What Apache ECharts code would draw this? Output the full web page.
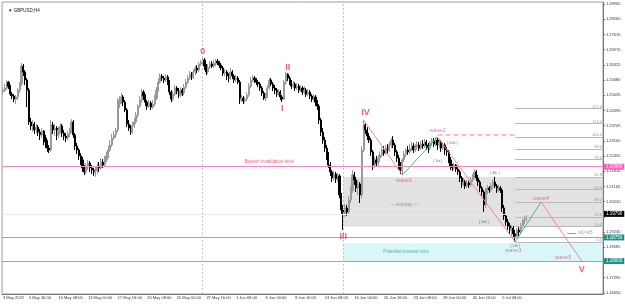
<!DOCTYPE html>
<html><head><meta charset="utf-8">
<script src="https://cdn.jsdelivr.net/npm/echarts@6/dist/echarts.min.js"></script>
<style>html,body{margin:0;padding:0;background:#fff}#c{width:625px;height:304px}</style>
</head><body><div id="c"></div>
<script>
// [open, close, low, high] per H4 bar
const ohlc = [
[1.2517,1.2525,1.2504,1.2538],[1.2525,1.2534,1.2517,1.2551],[1.2534,1.2559,1.2525,1.2568],[1.2559,1.2542,1.2530,1.2564],
[1.2542,1.2508,1.2500,1.2547],[1.2508,1.2500,1.2487,1.2517],[1.2500,1.2487,1.2474,1.2508],[1.2487,1.2496,1.2466,1.2504],
[1.2496,1.2525,1.2483,1.2534],[1.2525,1.2551,1.2513,1.2559],[1.2551,1.2627,1.2542,1.2640],[1.2627,1.2602,1.2585,1.2636],
[1.2602,1.2568,1.2547,1.2610],[1.2568,1.2525,1.2453,1.2576],[1.2525,1.2390,1.2377,1.2534],[1.2390,1.2373,1.2356,1.2407],
[1.2373,1.2381,1.2347,1.2398],[1.2381,1.2356,1.2339,1.2390],[1.2356,1.2368,1.2343,1.2381],[1.2368,1.2347,1.2330,1.2377],
[1.2347,1.2335,1.2313,1.2360],[1.2335,1.2352,1.2322,1.2364],[1.2352,1.2322,1.2292,1.2356],[1.2322,1.2305,1.2279,1.2335],
[1.2305,1.2279,1.2263,1.2313],[1.2279,1.2271,1.2258,1.2292],[1.2271,1.2377,1.2263,1.2398],[1.2377,1.2356,1.2339,1.2390],
[1.2356,1.2364,1.2330,1.2381],[1.2364,1.2335,1.2313,1.2373],[1.2335,1.2356,1.2322,1.2368],[1.2356,1.2373,1.2343,1.2385],
[1.2373,1.2343,1.2326,1.2381],[1.2343,1.2330,1.2313,1.2356],[1.2330,1.2322,1.2305,1.2343],[1.2322,1.2339,1.2313,1.2352],
[1.2339,1.2356,1.2326,1.2364],[1.2356,1.2390,1.2343,1.2402],[1.2390,1.2335,1.2322,1.2398],[1.2335,1.2288,1.2271,1.2343],
[1.2288,1.2271,1.2254,1.2301],[1.2271,1.2246,1.2229,1.2279],[1.2246,1.2229,1.2207,1.2258],[1.2229,1.2195,1.2178,1.2241],
[1.2195,1.2178,1.2165,1.2207],[1.2178,1.2203,1.2169,1.2216],[1.2203,1.2216,1.2186,1.2229],[1.2216,1.2195,1.2178,1.2224],
[1.2195,1.2186,1.2169,1.2207],[1.2186,1.2174,1.2161,1.2195],[1.2174,1.2182,1.2157,1.2199],[1.2182,1.2203,1.2169,1.2216],
[1.2203,1.2195,1.2178,1.2220],[1.2195,1.2220,1.2186,1.2237],[1.2220,1.2207,1.2195,1.2233],[1.2207,1.2229,1.2199,1.2246],
[1.2229,1.2246,1.2220,1.2263],[1.2246,1.2271,1.2237,1.2288],[1.2271,1.2292,1.2263,1.2313],[1.2292,1.2322,1.2284,1.2339],
[1.2322,1.2335,1.2313,1.2352],[1.2335,1.2356,1.2322,1.2364],[1.2356,1.2466,1.2347,1.2491],[1.2466,1.2483,1.2449,1.2500],
[1.2483,1.2496,1.2466,1.2513],[1.2496,1.2474,1.2457,1.2504],[1.2474,1.2441,1.2432,1.2483],[1.2441,1.2381,1.2368,1.2449],
[1.2381,1.2364,1.2352,1.2398],[1.2364,1.2347,1.2335,1.2377],[1.2347,1.2373,1.2339,1.2390],[1.2373,1.2390,1.2364,1.2407],
[1.2390,1.2419,1.2381,1.2432],[1.2419,1.2457,1.2407,1.2466],[1.2457,1.2483,1.2449,1.2500],[1.2483,1.2517,1.2470,1.2530],
[1.2517,1.2500,1.2483,1.2525],[1.2500,1.2474,1.2457,1.2508],[1.2474,1.2457,1.2441,1.2483],[1.2457,1.2470,1.2449,1.2483],
[1.2470,1.2453,1.2441,1.2479],[1.2453,1.2466,1.2445,1.2483],[1.2466,1.2491,1.2457,1.2504],[1.2491,1.2525,1.2483,1.2538],
[1.2525,1.2559,1.2517,1.2576],[1.2559,1.2585,1.2551,1.2597],[1.2585,1.2576,1.2564,1.2593],[1.2576,1.2568,1.2555,1.2585],
[1.2568,1.2581,1.2559,1.2593],[1.2581,1.2559,1.2547,1.2589],[1.2559,1.2517,1.2504,1.2568],[1.2517,1.2487,1.2474,1.2525],
[1.2487,1.2508,1.2479,1.2521],[1.2508,1.2534,1.2500,1.2547],[1.2534,1.2521,1.2508,1.2542],[1.2521,1.2504,1.2491,1.2534],
[1.2504,1.2525,1.2496,1.2538],[1.2525,1.2513,1.2500,1.2534],[1.2513,1.2538,1.2504,1.2551],[1.2538,1.2559,1.2530,1.2572],
[1.2559,1.2576,1.2551,1.2589],[1.2576,1.2593,1.2568,1.2606],[1.2593,1.2581,1.2568,1.2602],[1.2581,1.2602,1.2572,1.2614],
[1.2602,1.2619,1.2589,1.2627],[1.2619,1.2610,1.2597,1.2631],[1.2610,1.2636,1.2602,1.2644],[1.2636,1.2644,1.2627,1.2653],
[1.2644,1.2653,1.2631,1.2665],[1.2653,1.2627,1.2610,1.2661],[1.2627,1.2602,1.2589,1.2636],[1.2602,1.2623,1.2593,1.2636],
[1.2623,1.2636,1.2614,1.2648],[1.2636,1.2627,1.2619,1.2648],[1.2627,1.2640,1.2619,1.2653],[1.2640,1.2648,1.2627,1.2657],
[1.2648,1.2640,1.2631,1.2657],[1.2640,1.2631,1.2619,1.2648],[1.2631,1.2619,1.2610,1.2640],[1.2619,1.2597,1.2585,1.2627],
[1.2597,1.2602,1.2585,1.2614],[1.2602,1.2585,1.2568,1.2610],[1.2585,1.2576,1.2559,1.2597],[1.2576,1.2602,1.2568,1.2619],
[1.2602,1.2585,1.2572,1.2610],[1.2585,1.2568,1.2555,1.2593],[1.2568,1.2576,1.2559,1.2589],[1.2576,1.2559,1.2551,1.2585],
[1.2559,1.2483,1.2466,1.2568],[1.2483,1.2491,1.2474,1.2504],[1.2491,1.2479,1.2466,1.2500],[1.2479,1.2487,1.2470,1.2496],
[1.2487,1.2504,1.2479,1.2517],[1.2504,1.2542,1.2496,1.2555],[1.2542,1.2568,1.2534,1.2581],[1.2568,1.2576,1.2559,1.2589],
[1.2576,1.2568,1.2555,1.2585],[1.2568,1.2559,1.2547,1.2576],[1.2559,1.2551,1.2538,1.2568],[1.2551,1.2534,1.2521,1.2559],
[1.2534,1.2513,1.2500,1.2542],[1.2513,1.2491,1.2483,1.2521],[1.2491,1.2500,1.2479,1.2513],[1.2500,1.2534,1.2491,1.2547],
[1.2534,1.2568,1.2525,1.2576],[1.2568,1.2551,1.2542,1.2576],[1.2551,1.2534,1.2521,1.2559],[1.2534,1.2525,1.2508,1.2547],
[1.2525,1.2508,1.2496,1.2534],[1.2508,1.2517,1.2500,1.2530],[1.2517,1.2496,1.2483,1.2525],[1.2496,1.2487,1.2474,1.2504],
[1.2487,1.2559,1.2483,1.2568],[1.2559,1.2593,1.2547,1.2602],[1.2593,1.2576,1.2564,1.2597],[1.2576,1.2559,1.2547,1.2585],
[1.2559,1.2542,1.2530,1.2568],[1.2542,1.2551,1.2534,1.2564],[1.2551,1.2534,1.2521,1.2559],[1.2534,1.2542,1.2525,1.2555],
[1.2542,1.2525,1.2513,1.2551],[1.2525,1.2534,1.2517,1.2547],[1.2534,1.2517,1.2504,1.2542],[1.2517,1.2525,1.2508,1.2542],
[1.2525,1.2508,1.2496,1.2534],[1.2508,1.2517,1.2500,1.2530],[1.2517,1.2500,1.2487,1.2525],[1.2500,1.2487,1.2474,1.2508],
[1.2487,1.2496,1.2479,1.2508],[1.2496,1.2474,1.2457,1.2504],[1.2474,1.2457,1.2441,1.2483],[1.2457,1.2398,1.2381,1.2466],
[1.2398,1.2347,1.2330,1.2407],[1.2347,1.2313,1.2296,1.2364],[1.2313,1.2279,1.2263,1.2326],[1.2279,1.2246,1.2229,1.2292],
[1.2246,1.2207,1.2195,1.2263],[1.2207,1.2178,1.2161,1.2220],[1.2178,1.2152,1.2135,1.2186],[1.2152,1.2169,1.2140,1.2182],
[1.2169,1.2148,1.2131,1.2178],[1.2148,1.2161,1.2135,1.2174],[1.2161,1.2080,1.2067,1.2169],[1.2080,1.2017,1.2000,1.2089],
[1.2017,1.2000,1.1932,1.2038],[1.2000,1.2025,1.1987,1.2042],[1.2025,1.2008,1.1991,1.2038],[1.2008,1.2059,1.2000,1.2076],
[1.2059,1.2101,1.2046,1.2118],[1.2101,1.2165,1.2089,1.2186],[1.2165,1.2144,1.2123,1.2178],[1.2144,1.2110,1.2093,1.2157],
[1.2110,1.2127,1.2080,1.2144],[1.2127,1.2080,1.2046,1.2135],[1.2080,1.2271,1.2067,1.2288],[1.2271,1.2377,1.2263,1.2398],
[1.2377,1.2356,1.2339,1.2385],[1.2356,1.2330,1.2313,1.2368],[1.2330,1.2313,1.2301,1.2343],[1.2313,1.2263,1.2246,1.2322],
[1.2263,1.2207,1.2186,1.2271],[1.2207,1.2229,1.2195,1.2241],[1.2229,1.2216,1.2199,1.2246],[1.2216,1.2237,1.2203,1.2250],
[1.2237,1.2250,1.2220,1.2263],[1.2250,1.2271,1.2241,1.2284],[1.2271,1.2258,1.2246,1.2288],[1.2258,1.2279,1.2250,1.2292],
[1.2279,1.2271,1.2254,1.2296],[1.2271,1.2292,1.2263,1.2305],[1.2292,1.2313,1.2279,1.2322],[1.2313,1.2292,1.2279,1.2330],
[1.2292,1.2263,1.2246,1.2301],[1.2263,1.2237,1.2220,1.2271],[1.2237,1.2207,1.2186,1.2250],[1.2207,1.2186,1.2169,1.2220],
[1.2186,1.2229,1.2165,1.2237],[1.2229,1.2254,1.2220,1.2267],[1.2254,1.2271,1.2241,1.2279],[1.2271,1.2263,1.2250,1.2288],
[1.2263,1.2279,1.2254,1.2296],[1.2279,1.2288,1.2267,1.2305],[1.2288,1.2271,1.2258,1.2301],[1.2271,1.2284,1.2263,1.2296],
[1.2284,1.2292,1.2271,1.2309],[1.2292,1.2279,1.2267,1.2305],[1.2279,1.2296,1.2271,1.2309],[1.2296,1.2288,1.2275,1.2313],
[1.2288,1.2305,1.2279,1.2318],[1.2305,1.2292,1.2271,1.2313],[1.2292,1.2279,1.2258,1.2301],[1.2279,1.2301,1.2271,1.2309],
[1.2301,1.2309,1.2288,1.2322],[1.2309,1.2296,1.2284,1.2322],[1.2296,1.2313,1.2288,1.2326],[1.2313,1.2292,1.2271,1.2322],
[1.2292,1.2305,1.2279,1.2318],[1.2305,1.2279,1.2263,1.2313],[1.2279,1.2292,1.2271,1.2305],[1.2292,1.2271,1.2250,1.2301],
[1.2271,1.2263,1.2246,1.2284],[1.2263,1.2229,1.2216,1.2271],[1.2229,1.2203,1.2186,1.2241],[1.2203,1.2195,1.2182,1.2212],
[1.2195,1.2207,1.2186,1.2216],[1.2207,1.2190,1.2178,1.2212],[1.2190,1.2178,1.2165,1.2199],[1.2178,1.2152,1.2135,1.2186],
[1.2152,1.2127,1.2110,1.2161],[1.2127,1.2135,1.2118,1.2152],[1.2135,1.2118,1.2106,1.2144],[1.2118,1.2131,1.2110,1.2144],
[1.2131,1.2123,1.2110,1.2140],[1.2123,1.2144,1.2114,1.2157],[1.2144,1.2161,1.2135,1.2169],[1.2161,1.2178,1.2152,1.2190],
[1.2178,1.2152,1.2140,1.2186],[1.2152,1.2135,1.2118,1.2165],[1.2135,1.2110,1.2093,1.2144],[1.2110,1.2093,1.2076,1.2118],
[1.2093,1.2038,1.2008,1.2101],[1.2038,1.2093,1.2025,1.2110],[1.2093,1.2110,1.2084,1.2123],[1.2110,1.2101,1.2089,1.2118],
[1.2101,1.2118,1.2093,1.2131],[1.2118,1.2135,1.2106,1.2144],[1.2135,1.2118,1.2110,1.2157],[1.2118,1.2101,1.2089,1.2127],
[1.2101,1.2110,1.2093,1.2123],[1.2110,1.2101,1.2089,1.2118],[1.2101,1.2025,1.2008,1.2110],[1.2025,1.1991,1.1974,1.2038],
[1.1991,1.1966,1.1949,1.2000],[1.1966,1.1949,1.1932,1.1978],[1.1949,1.1932,1.1915,1.1961],[1.1932,1.1940,1.1906,1.1953],
[1.1940,1.1915,1.1898,1.1949],[1.1915,1.1906,1.1881,1.1932],[1.1906,1.1932,1.1898,1.1940],[1.1932,1.1923,1.1906,1.1945],
[1.1923,1.1949,1.1915,1.1961],[1.1949,1.1966,1.1940,1.1978],[1.1966,1.1974,1.1957,1.1991],[1.1974,1.1979,1.1966,1.1995]
];
const barCount = 325;
const categories = Array.from({length: barCount}, (_, i) => String(i));
const xTickIdx = [0,14,30,46,62,78,94,110,126,142,158,174,190,206,222,238,254,270];
const xTickLabels = ['3 May 2022','5 May 16:00','10 May 08:00','13 May 00:00','17 May 16:00','20 May 08:00','25 May 00:00','27 May 16:00','1 Jun 08:00','6 Jun 00:00','8 Jun 16:00','13 Jun 08:00','16 Jun 00:00','20 Jun 16:00','23 Jun 08:00','28 Jun 00:00','30 Jun 16:00','5 Jul 08:00'];
const yTicks = [1.16650,1.17295,1.17940,1.18585,1.19230,1.19875,1.20520,1.21165,1.21810,1.22455,1.23100,1.23745,1.24390,1.25035,1.25680,1.26325,1.26970,1.27615,1.28260,1.28905];
const yHidden = [1.17940,1.19875];
const bearishLevel = 1.22000;
const przTop = 1.18750, przBottom = 1.18000;
const sidewayTop = 1.2156, sidewayBottom = 1.1945;
const bidPrice = 1.19790;
const separators = [108, 184];
const zoneStart = 184, lastCat = 324;
const wavePivots = [[195,1.2398],[216,1.2165],[235,1.2326],[277,1.1881],[291,1.2050],[313,1.1800]];
const fibStart = 277, fib0 = 1.1881, fib100 = 1.2326;
const fibLevels = [0,14.6,23.6,38.2,50,61.8,78.6,88.6,100,113,127];
const wave2Line = [[235,1.2337],[277,1.2337]];
const mainLabels = [['0',108,1.2687],['I',151,1.2445],['II',154,1.2623],['III',184,1.1906],['IV',196,1.2428],['V',313,1.1762]];
const subLabels = [['wave1',217,1.2140],['wave2',235,1.2352],['wave3',276,1.1843],['wave4',291,1.2067],['wave5',303,1.1817]];
const countLabels = [['( 1st )',235,1.2224],['( 2nd )',243,1.2301],['( 3rd )',260,1.1966],['( 4th )',266,1.2174],['( 5th )',277,1.1864]];
const w1w5 = [[305,1.1919],[310,1.1919]];
const notes = [
  ['Bearish invalidation level',144,1.2221,'#e8365f'],
  ['--- sideway ---',217,1.2038,'#8a8a8a'],
  ['Potential reversal zone',218,1.1839,'#2aa0a0'],
  ['w1=w5',315,1.1919,'#8a8a8a']
];

const PINK = '#f2849e', GREEN = '#4fb870', RED = '#e8365f', WAVE = '#d9529c', TEAL = '#5cc4c4';
const segs = [];
for (let k = 0; k < wavePivots.length - 1; k++) {
  segs.push([{coord: wavePivots[k]}, {coord: wavePivots[k+1], lineStyle: {color: k % 2 === 0 ? PINK : GREEN, width: 1}}]);
}
const fibLines = fibLevels.map(l => {
  const p = fib0 + (fib100 - fib0) * l / 100;
  return [{coord: [fibStart, p], label: {formatter: l.toFixed(1)}}, {coord: [lastCat, p]}];
});
function txt(list, style) {
  return list.map(d => ({value: [d[1], d[2]], label: Object.assign({show: true, formatter: d[0]}, style, d[3] ? {color: d[3]} : {})}));
}
const endLabel = (text, bg, fg) => ({show: true, position: 'end', formatter: text, backgroundColor: bg, color: fg, fontSize: 4.5, padding: [1, 2, 0, 2], distance: 1, fontFamily: 'Liberation Sans'});
const hLine = (v, color, label) => ({yAxis: v, lineStyle: {color: color, width: 1, type: 'solid', opacity: 1}, label: label});

const chart = echarts.init(document.getElementById('c'), null, {renderer: 'canvas'});
chart.setOption({
  animation: false,
  title: {text: '\u25BC GBPUSD,H4', left: 3, top: 3, textStyle: {fontSize: 4.5, fontWeight: 'normal', color: '#222', fontFamily: 'Liberation Sans'}},
  grid: {left: 2, right: 22, top: 2, bottom: 10, show: true, borderColor: '#9c9c9c', borderWidth: 1},
  xAxis: {
    type: 'category', data: categories, boundaryGap: true,
    axisLine: {lineStyle: {color: '#777'}},
    axisTick: {interval: (i) => xTickIdx.includes(i), length: 2, lineStyle: {color: '#777'}},
    axisLabel: {interval: (i) => xTickIdx.includes(i), formatter: (v) => xTickLabels[xTickIdx.indexOf(Number(v))] || '', fontSize: 4, color: '#333', align: 'left', margin: 2, fontFamily: 'Liberation Sans'},
    splitLine: {show: false}
  },
  yAxis: {
    type: 'value', position: 'right', min: 1.1660, max: 1.2899, scale: true,
    axisLine: {show: true, lineStyle: {color: '#777'}},
    axisTick: {show: true, length: 2, customValues: yTicks, lineStyle: {color: '#777'}},
    axisLabel: {customValues: yTicks.filter(v => !yHidden.includes(v)), formatter: (v) => v.toFixed(5), fontSize: 4, color: '#333', margin: 3, fontFamily: 'Liberation Sans'},
    splitLine: {show: false}
  },
  series: [
    {type: 'line', data: [], z: 1, silent: true, color: TEAL,
      markArea: {silent: true, data: [
        [{coord: [zoneStart, sidewayTop], itemStyle: {color: '#e2e2e2'}}, {coord: [lastCat, sidewayBottom]}],
        [{coord: [zoneStart, przTop], itemStyle: {color: '#d9f6f8'}}, {coord: [lastCat, przBottom]}]
      ]},
      markLine: {silent: true, symbol: 'none', animation: false, lineStyle: {color: TEAL, width: 1, type: 'solid'}, data: [
        hLine(bidPrice, '#e8e8e8', endLabel(bidPrice.toFixed(5), '#000', '#fff')),
        hLine(bearishLevel, '#f08ac4', endLabel(bearishLevel.toFixed(5), '#ff5fc0', '#fff')),
        hLine(przTop, TEAL, endLabel(przTop.toFixed(5), '#1f9088', '#fff')),
        hLine(przBottom, TEAL, endLabel(przBottom.toFixed(5), '#1f9088', '#fff')),
        ...separators.map(s => ({xAxis: s, lineStyle: {color: '#c4c4c4', width: 1, type: [2, 2]}, label: {show: false}}))
      ]}
    },
    {type: 'line', data: [], z: 2, silent: true,
      markLine: {silent: true, symbol: 'none', animation: false,
        lineStyle: {color: '#b9b9b9', width: 1, type: 'solid'},
        label: {show: true, position: 'insideEndTop', fontSize: 4, color: '#999', distance: 0, fontFamily: 'Liberation Sans'},
        data: fibLines.concat([
          [{coord: wave2Line[0], lineStyle: {color: '#ff9fd2', width: 1.5, type: [5, 3]}, label: {show: false}}, {coord: wave2Line[1]}],
          [{coord: w1w5[0], lineStyle: {color: '#9a9a9a', width: 1}, label: {show: false}}, {coord: w1w5[1]}]
        ])
      }
    },
    {type: 'candlestick', data: ohlc, z: 3, barWidth: 1.6,
      itemStyle: {color: '#9a9a9a', color0: '#000', borderColor: '#9a9a9a', borderColor0: '#000', borderWidth: 1}
    },
    {type: 'line', data: [], z: 4, silent: true,
      markLine: {silent: true, symbol: 'none', animation: false, label: {show: false}, lineStyle: {width: 1, type: 'solid', color: PINK}, data: segs}
    },
    {type: 'scatter', z: 5, symbolSize: 0, silent: true, data: [].concat(
      txt(mainLabels, {position: 'inside', fontSize: 9, fontWeight: 'bold', color: RED, fontFamily: 'Liberation Sans'}),
      txt(subLabels, {position: 'inside', fontSize: 5.5, color: WAVE, fontFamily: 'Liberation Sans'}),
      txt(countLabels, {position: 'inside', fontSize: 3.8, color: '#555', fontFamily: 'Liberation Sans'}),
      txt(notes, {position: 'inside', fontSize: 4.5, fontFamily: 'Liberation Sans'})
    )}
  ]
});
</script></body></html>
